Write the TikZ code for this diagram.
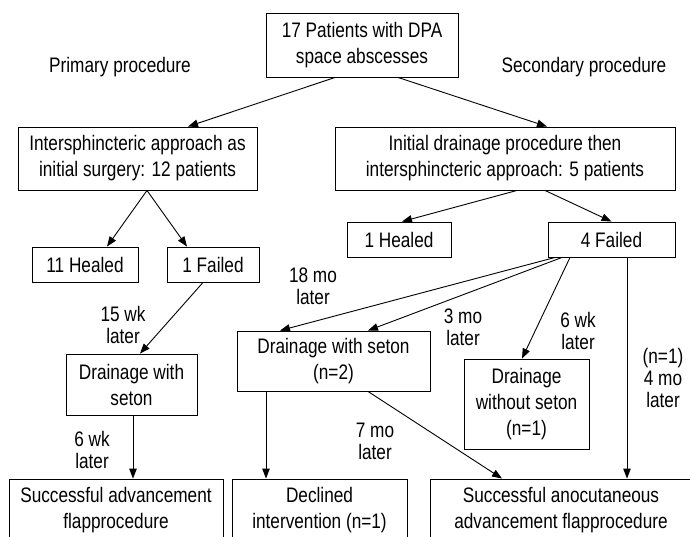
\documentclass[tikz,border=0pt]{standalone}
\usepackage{fontspec}
\setmainfont{Liberation Sans}[FakeStretch=0.82]
\usetikzlibrary{arrows.meta}
\begin{document}
\begin{tikzpicture}[x=1pt,y=-1pt,
  box/.style={draw, line width=0.9pt, align=center, inner sep=0pt, font=\fontsize{21}{26}\selectfont},
  lbl/.style={align=center, inner sep=0pt, font=\fontsize{21}{22}\selectfont},
  arr/.style={-{Triangle[length=10pt,width=7.5pt]}, line width=0.9pt}]
\clip (0,0) rectangle (690,536);
% boxes
\node[box, minimum width=192pt, minimum height=64pt] (top) at (362,45) {17 Patients with DPA\\space abscesses};
\node[box, minimum width=239pt, minimum height=63pt] (inter) at (137.5,158.5) {Intersphincteric approach as\\initial surgery: 12 patients};
\node[box, minimum width=340pt, minimum height=63pt] (initial) at (505,158.5) {Initial drainage procedure then\\intersphincteric approach: 5 patients};
\node[box, minimum width=106pt, minimum height=35pt] (healedA) at (85,264.5) {11 Healed};
\node[box, minimum width=92pt, minimum height=35pt] (failedA) at (213,264.5) {1 Failed};
\node[box, minimum width=104pt, minimum height=35pt] (healedB) at (399,239.5) {1 Healed};
\node[box, minimum width=127pt, minimum height=35pt] (failedB) at (611.5,239.5) {4 Failed};
\node[box, minimum width=131pt, minimum height=61pt] (setonA) at (131.5,384.5) {Drainage with\\seton};
\node[box, minimum width=193pt, minimum height=60pt] (setonB) at (333.5,361) {Drainage with seton\\(n=2)};
\node[box, minimum width=125pt, minimum height=90pt] (noseton) at (526.5,404) {Drainage\\without seton\\(n=1)};
\node[box, minimum width=214pt, minimum height=62pt] (botA) at (116,510) {Successful advancement\\flapprocedure};
\node[box, minimum width=175pt, minimum height=62pt] (declined) at (319.5,510) {Declined\\intervention (n=1)};
\node[box, minimum width=262pt, minimum height=62pt] (anocut) at (561,510) {Successful anocutaneous\\advancement flapprocedure};
% labels
\node[lbl] (prim) at (120,67) {Primary procedure};
\node[lbl] (sec) at (584,67) {Secondary procedure};
\node[lbl] (l18) at (313,286) {18 mo\\later};
\node[lbl] (l15) at (123,325) {15 wk\\later};
\node[lbl] (l6a) at (92,450) {6 wk\\later};
\node[lbl] (l3) at (463,327) {3 mo\\later};
\node[lbl] (l6b) at (578,331) {6 wk\\later};
\node[lbl] (l4) at (663,378) {(n=1)\\4 mo\\later};
\node[lbl] (l7) at (375,441) {7 mo\\later};
% arrows
\draw[arr] ([xshift=-27pt]top.south) -- ([xshift=50.5pt]inter.north);
\draw[arr] ([xshift=36pt]top.south) -- ([xshift=42pt]initial.north);
\draw[arr] ([xshift=9.5pt]inter.south) -- ([xshift=22pt]healedA.north);
\draw[arr] ([xshift=9.5pt]inter.south) -- ([xshift=-26pt]failedA.north);
\draw[arr] ([xshift=12pt]initial.south) -- ([xshift=3pt]healedB.north);
\draw[arr] ([xshift=40pt]initial.south) -- (failedB.north);
\draw[arr] ([xshift=-10pt]failedA.south) -- ([xshift=8.5pt]setonA.north);
\draw[arr] ([xshift=1.5pt]setonA.south) -- ([xshift=17pt]botA.north);
\draw[arr] ([xshift=-56.5pt]failedB.south) -- ([xshift=-53.5pt]setonB.north);
\draw[arr] ([xshift=-49.5pt]failedB.south) -- ([xshift=34.5pt]setonB.north);
\draw[arr] ([xshift=-41.5pt]failedB.south) -- ([xshift=-4.5pt]noseton.north);
\draw[arr] ([xshift=15.5pt]failedB.south) -- ([xshift=66pt]anocut.north);
\draw[arr] ([xshift=-67.5pt]setonB.south) -- ([xshift=-53.5pt]declined.north);
\draw[arr] ([xshift=34.5pt]setonB.south) -- ([xshift=-59pt]anocut.north);
\end{tikzpicture}
\end{document}
